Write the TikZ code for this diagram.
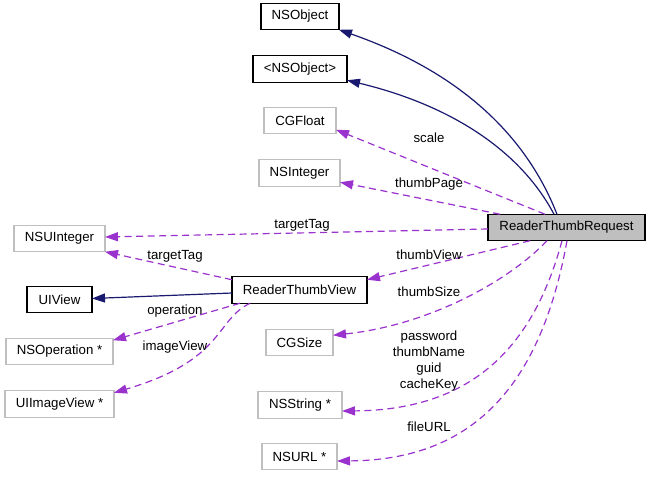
\documentclass[tikz,border=0pt]{standalone}
\usepackage{fontspec}
\setmainfont{Liberation Sans}
\usetikzlibrary{arrows.meta}
\definecolor{navyedge}{HTML}{191970}
\definecolor{purpleedge}{HTML}{9A32CD}
\definecolor{graybox}{HTML}{BFBFBF}
\begin{document}
\begin{tikzpicture}[x=1pt,y=-1pt,
  every node/.style={font=\fontsize{13.25}{15}\selectfont, inner sep=0pt, outer sep=0pt},
  blackbox/.style={draw=black, line width=1.1pt, fill=white, minimum height=26.5pt},
  greybox/.style={draw=graybox, line width=1.1pt, fill=white, minimum height=26.5pt},
  mainbox/.style={draw=black, line width=1.1pt, fill=graybox, minimum height=26.5pt},
  inherit/.style={draw=navyedge, line width=1.2pt, -{Triangle[length=13pt,width=9pt]}},
  usage/.style={draw=purpleedge, line width=1.2pt, dash pattern=on 7pt off 4.5pt, -{Triangle[length=13pt,width=9pt]}},
  elabel/.style={align=center, font=\fontsize{13.25}{16}\selectfont}
]
\useasboundingbox (0,0) rectangle (651,477);
\fill[white] (0,0) rectangle (651,477);

% nodes
\node[blackbox, minimum width=78pt] (nso) at (300,16.5) {NSObject};
\node[blackbox, minimum width=94pt] (pnso) at (300,69) {<NSObject>};
\node[greybox, minimum width=72pt] (cgf) at (300,120.5) {CGFloat};
\node[greybox, minimum width=81pt] (nsi) at (299.5,173) {NSInteger};
\node[mainbox, minimum width=157pt] (rtr) at (566.5,227.5) {ReaderThumbRequest};
\node[greybox, minimum width=91pt] (nsu) at (59.5,238.5) {NSUInteger};
\node[blackbox, minimum width=65pt] (uiv) at (59.5,299.5) {UIView};
\node[blackbox, minimum width=135pt] (rtv) at (299.5,290) {ReaderThumbView};
\node[greybox, minimum width=107pt] (nsop) at (59.5,351.5) {NSOperation *};
\node[greybox, minimum width=109pt] (uiiv) at (59.5,404) {UIImageView *};
\node[greybox, minimum width=67pt] (cgs) at (299.5,342.5) {CGSize};
\node[greybox, minimum width=84pt] (nss) at (300,405) {NSString *};
\node[greybox, minimum width=75pt] (nsurl) at (299.5,456.5) {NSURL *};

% inheritance edges
\draw[inherit] ([xshift=69pt]rtr.north west) .. controls (520,120) and (440,65) .. (nso.south east);
\draw[inherit] ([xshift=66pt]rtr.north west) .. controls (520,150) and (450,105) .. ([yshift=2pt]pnso.south east);
\draw[inherit] ([yshift=-3pt]rtv.west) -- ([yshift=1pt]uiv.east);

% usage edges
\draw[usage] ([xshift=57pt]rtr.north west) -- ([yshift=4pt]cgf.south east);
\draw[usage] ([xshift=12pt]rtr.north west) -- ([yshift=4pt]nsi.south east);
\draw[usage] ([yshift=-1.5pt]rtr.west) -- ([yshift=1.5pt]nsu.east);
\draw[usage] ([yshift=-3pt]rtv.north west) -- (nsu.south east);
\draw[usage] ([xshift=42pt]rtr.south west) -- ([yshift=-3pt]rtv.north east);
\draw[usage] ([xshift=59pt]rtr.south west) .. controls (510,280) and (430,325) .. ([yshift=-6pt]cgs.north east);
\draw[usage] ([xshift=74pt]rtr.south west) .. controls (530,360) and (460,410) .. ([yshift=-6pt]nss.east);
\draw[usage] ([xshift=79pt]rtr.south west) .. controls (540,390) and (470,460) .. ([yshift=-4.5pt]nsurl.east);
\draw[usage] ([xshift=8pt]rtv.south west) -- ([yshift=-2pt]nsop.north east);
\draw[usage] ([xshift=18pt]rtv.south west) .. controls (215,320) and (225,360) .. ([yshift=-2pt]uiiv.north east);

% edge labels
\node[elabel] (lscale) at (429,138) {scale};
\node[elabel] (lpage) at (429,184) {thumbPage};
\node[elabel] (ltag1) at (302,225) {targetTag};
\node[elabel] (ltag2) at (175,256) {targetTag};
\node[elabel] (lview) at (429,255) {thumbView};
\node[elabel] (lsize) at (429,292) {thumbSize};
\node[elabel] (lop) at (175,311) {operation};
\node[elabel] (limg) at (175,347) {imageView};
\node[elabel] (lstr) at (429,361) {password\\thumbName\\guid\\cacheKey};
\node[elabel] (lurl) at (429,427) {fileURL};
\end{tikzpicture}
\end{document}
